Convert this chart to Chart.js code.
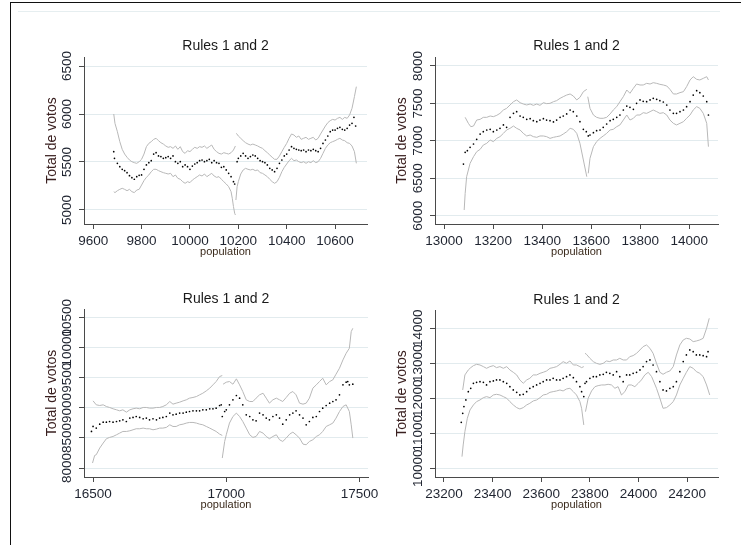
<!DOCTYPE html>
<html><head><meta charset="utf-8">
<script src="https://cdn.jsdelivr.net/npm/chart.js@4.4.1/dist/chart.umd.min.js"></script>
<style>
html,body{margin:0;padding:0;background:#fff;}
#wrap{position:relative;width:741px;height:545px;overflow:hidden;background:#fff;}
canvas{position:absolute;}
.frame{position:absolute;left:10px;top:2px;width:731px;height:543px;border-left:1px solid #111;border-top:1px solid #111;box-sizing:border-box;pointer-events:none;}
.faint{position:absolute;left:18px;top:11px;width:702px;height:1px;background:#e6eef0;}
</style></head><body>
<div id="wrap">
<div class="faint"></div>
<canvas id="c1" width="380" height="272" style="left:0;top:0"></canvas>
<canvas id="c2" width="361" height="272" style="left:380px;top:0"></canvas>
<canvas id="c3" width="380" height="273" style="left:0;top:272px"></canvas>
<canvas id="c4" width="361" height="273" style="left:380px;top:272px"></canvas>
<div class="frame"></div>
</div>
<script>
// ---------- DATA ----------
const panelTitle = 'Rules 1 and 2';
const xAxisTitle = 'population';
const yAxisTitle = 'Total de votos';

const p1XTicks = [9600, 9800, 10000, 10200, 10400, 10600];
const p1YTicks = [5000, 5500, 6000, 6500];
const p2XTicks = [13000, 13200, 13400, 13600, 13800, 14000];
const p2YTicks = [6000, 6500, 7000, 7500, 8000];
const p3XTicks = [16500, 17000, 17500];
const p3YTicks = [8000, 8500, 9000, 9500, 10000, 10500];
const p4XTicks = [23200, 23400, 23600, 23800, 24000, 24200];
const p4YTicks = [10000, 11000, 12000, 13000, 14000];

// Panel 1
const p1Dots = [[9685,5608],[9688,5538],[9700,5486],[9710,5451],[9720,5424],[9730,5410],[9740,5389],[9750,5358],[9760,5337],[9770,5320],[9780,5347],[9790,5361],[9800,5365],[9810,5424],[9820,5469],[9830,5493],[9840,5514],[9850,5583],[9860,5597],[9870,5563],[9880,5556],[9890,5538],[9900,5545],[9910,5556],[9920,5538],[9930,5563],[9940,5503],[9950,5486],[9960,5503],[9970,5451],[9980,5469],[9990,5451],[10000,5424],[10010,5458],[10020,5479],[10030,5493],[10040,5514],[10050,5521],[10060,5503],[10070,5514],[10080,5528],[10090,5493],[10100,5514],[10110,5493],[10120,5486],[10130,5444],[10140,5451],[10150,5417],[10160,5382],[10170,5347],[10180,5295],[10185,5271],[10195,5503],[10200,5538],[10210,5563],[10220,5590],[10230,5563],[10240,5538],[10250,5556],[10260,5573],[10270,5563],[10280,5538],[10290,5514],[10300,5503],[10310,5493],[10320,5469],[10330,5434],[10340,5417],[10350,5399],[10360,5434],[10370,5486],[10380,5521],[10390,5563],[10400,5583],[10410,5625],[10420,5660],[10430,5642],[10440,5632],[10450,5625],[10460,5618],[10470,5625],[10480,5608],[10490,5625],[10500,5618],[10510,5632],[10520,5618],[10530,5608],[10540,5642],[10550,5694],[10560,5729],[10570,5771],[10580,5816],[10590,5833],[10600,5833],[10610,5851],[10620,5861],[10630,5840],[10640,5833],[10650,5851],[10660,5885],[10670,5903],[10678,5965],[10685,5875]];
const p1UpL = [[9685,6000],[9690,5903],[9700,5816],[9710,5712],[9720,5632],[9730,5583],[9740,5549],[9750,5521],[9760,5503],[9770,5493],[9780,5486],[9790,5503],[9800,5528],[9810,5583],[9820,5660],[9830,5694],[9840,5712],[9850,5736],[9860,5747],[9870,5722],[9880,5701],[9890,5687],[9900,5667],[9910,5653],[9920,5660],[9930,5642],[9940,5667],[9950,5632],[9960,5660],[9970,5608],[9980,5590],[9990,5618],[10000,5608],[10010,5632],[10020,5653],[10030,5642],[10040,5660],[10050,5653],[10060,5667],[10070,5642],[10080,5660],[10090,5677],[10100,5632],[10110,5608],[10120,5590],[10130,5583],[10140,5597],[10150,5590],[10160,5583],[10170,5597],[10180,5625],[10188,5667]];
const p1UpR = [[10192,5799],[10200,5771],[10210,5747],[10220,5722],[10230,5701],[10240,5687],[10250,5677],[10260,5687],[10270,5677],[10280,5667],[10290,5653],[10300,5642],[10310,5618],[10320,5597],[10330,5573],[10340,5549],[10350,5528],[10360,5528],[10370,5563],[10380,5608],[10390,5653],[10400,5694],[10410,5747],[10420,5792],[10430,5781],[10440,5757],[10450,5771],[10460,5736],[10470,5747],[10480,5757],[10490,5736],[10500,5747],[10510,5757],[10520,5729],[10530,5747],[10540,5792],[10550,5833],[10560,5875],[10570,5910],[10580,5931],[10590,5944],[10600,5937],[10610,5955],[10620,5965],[10630,5944],[10640,5965],[10650,5955],[10660,5990],[10670,6059],[10680,6181],[10688,6285]];
const p1LoL = [[9685,5191],[9690,5181],[9700,5201],[9710,5215],[9720,5226],[9730,5215],[9740,5201],[9750,5215],[9760,5191],[9770,5181],[9780,5208],[9790,5215],[9800,5260],[9810,5306],[9820,5340],[9830,5365],[9840,5399],[9850,5424],[9860,5424],[9870,5410],[9880,5399],[9890,5389],[9900,5382],[9910,5375],[9920,5382],[9930,5347],[9940,5365],[9950,5330],[9960,5320],[9970,5295],[9980,5278],[9990,5295],[10000,5285],[10010,5312],[10020,5330],[10030,5347],[10040,5365],[10050,5354],[10060,5375],[10070,5347],[10080,5365],[10090,5382],[10100,5354],[10110,5340],[10120,5347],[10130,5320],[10140,5295],[10150,5271],[10160,5243],[10170,5191],[10175,5122],[10180,5035],[10185,4965],[10188,4948]];
const p1LoR = [[10190,5104],[10195,5243],[10200,5295],[10210,5375],[10220,5417],[10230,5434],[10240,5424],[10250,5417],[10260,5424],[10270,5410],[10280,5417],[10290,5389],[10300,5382],[10310,5365],[10320,5347],[10330,5320],[10340,5295],[10350,5278],[10360,5295],[10370,5340],[10380,5399],[10390,5444],[10400,5479],[10410,5514],[10420,5538],[10430,5514],[10440,5521],[10450,5503],[10460,5493],[10470,5503],[10480,5486],[10490,5503],[10500,5493],[10510,5514],[10520,5493],[10530,5503],[10540,5538],[10550,5590],[10560,5642],[10570,5677],[10580,5701],[10590,5712],[10600,5722],[10610,5736],[10620,5747],[10630,5729],[10640,5722],[10650,5701],[10660,5694],[10670,5667],[10680,5608],[10688,5486]];

// Panel 2
const p2Dots = [[13079,6690],[13086,6846],[13095,6869],[13106,6913],[13120,6958],[13133,7020],[13147,7091],[13160,7122],[13174,7145],[13188,7154],[13201,7122],[13215,7145],[13228,7167],[13242,7212],[13255,7180],[13269,7314],[13283,7367],[13296,7390],[13310,7332],[13323,7314],[13337,7287],[13351,7296],[13364,7269],[13378,7256],[13391,7278],[13405,7296],[13418,7278],[13432,7269],[13446,7252],[13459,7278],[13473,7314],[13486,7332],[13500,7359],[13514,7412],[13527,7390],[13541,7332],[13554,7256],[13568,7154],[13580,7122],[13588,7065],[13595,7078],[13609,7109],[13622,7136],[13636,7145],[13649,7180],[13663,7225],[13677,7269],[13690,7287],[13704,7314],[13717,7345],[13731,7412],[13745,7465],[13758,7448],[13772,7421],[13785,7501],[13799,7546],[13812,7528],[13826,7523],[13840,7546],[13853,7568],[13867,7555],[13880,7537],[13894,7519],[13908,7479],[13921,7412],[13935,7367],[13948,7367],[13962,7390],[13976,7412],[13989,7457],[14003,7523],[14016,7612],[14030,7670],[14043,7644],[14057,7599],[14071,7523],[14078,7345]];
const p2UpL = [[13086,7314],[13099,7234],[13109,7189],[13120,7198],[13133,7278],[13147,7287],[13160,7314],[13174,7314],[13188,7332],[13201,7323],[13215,7341],[13228,7367],[13242,7412],[13255,7434],[13269,7479],[13283,7523],[13296,7546],[13310,7510],[13323,7492],[13337,7479],[13351,7492],[13364,7474],[13378,7492],[13391,7474],[13405,7510],[13418,7497],[13432,7501],[13446,7523],[13459,7537],[13473,7568],[13486,7590],[13500,7612],[13514,7626],[13527,7599],[13541,7546],[13554,7581],[13568,7657],[13582,7688]];
const p2UpR = [[13586,7590],[13595,7434],[13609,7345],[13622,7314],[13636,7301],[13649,7301],[13663,7314],[13677,7359],[13690,7412],[13704,7457],[13717,7523],[13731,7590],[13745,7679],[13758,7635],[13772,7702],[13785,7759],[13799,7746],[13812,7746],[13826,7768],[13840,7759],[13853,7777],[13867,7768],[13880,7755],[13894,7746],[13908,7733],[13921,7688],[13935,7626],[13948,7626],[13962,7644],[13976,7657],[13989,7724],[14003,7813],[14016,7857],[14030,7822],[14043,7813],[14057,7835],[14071,7857],[14078,7813]];
const p2LoL = [[13082,6076],[13086,6298],[13092,6521],[13106,6699],[13120,6788],[13133,6855],[13147,6886],[13160,6944],[13174,6967],[13188,7011],[13201,6989],[13215,7033],[13228,7056],[13242,7100],[13255,7145],[13269,7167],[13283,7198],[13296,7167],[13310,7145],[13323,7100],[13337,7065],[13351,7078],[13364,7056],[13378,7047],[13391,7065],[13405,7065],[13418,7056],[13432,7033],[13446,7047],[13459,7056],[13473,7065],[13486,7091],[13500,7122],[13514,7167],[13527,7154],[13541,7100],[13554,6967],[13568,6744],[13582,6521]];
const p2LoR = [[13588,6566],[13595,6766],[13609,6922],[13622,6989],[13636,7033],[13649,7065],[13663,7100],[13677,7145],[13690,7154],[13704,7189],[13717,7212],[13731,7278],[13745,7345],[13758,7278],[13772,7301],[13785,7345],[13799,7345],[13812,7376],[13826,7367],[13840,7390],[13853,7412],[13867,7390],[13880,7367],[13894,7376],[13908,7345],[13921,7278],[13935,7234],[13948,7212],[13962,7234],[13976,7256],[13989,7301],[14003,7345],[14016,7412],[14030,7457],[14043,7434],[14057,7367],[14071,7234],[14078,6922]];

// Panel 3
const p3Dots = [[16494,8608],[16500,8691],[16512,8664],[16525,8730],[16538,8763],[16550,8763],[16562,8774],[16575,8763],[16588,8774],[16600,8785],[16612,8802],[16625,8774],[16638,8830],[16650,8841],[16662,8857],[16675,8841],[16688,8819],[16700,8830],[16712,8802],[16725,8819],[16738,8802],[16750,8830],[16762,8841],[16775,8857],[16788,8913],[16800,8885],[16812,8896],[16825,8913],[16838,8913],[16850,8929],[16862,8940],[16875,8951],[16888,8951],[16900,8951],[16912,8968],[16925,8968],[16938,8985],[16950,8985],[16962,8996],[16975,9040],[16981,9051],[16985,8857],[16994,8940],[17000,8968],[17012,9051],[17025,9134],[17038,9206],[17050,9162],[17062,9051],[17075,8885],[17088,8857],[17100,8802],[17112,8785],[17125,8913],[17138,8885],[17150,8830],[17162,8802],[17175,8857],[17188,8885],[17200,8830],[17212,8730],[17225,8802],[17238,8885],[17250,8913],[17262,8951],[17275,8885],[17288,8830],[17300,8719],[17312,8774],[17325,8841],[17338,8857],[17350,8940],[17362,8996],[17375,9040],[17388,9079],[17400,9106],[17412,9134],[17425,9217],[17438,9383],[17450,9427],[17456,9438],[17462,9383],[17475,9394]];
const p3UpL = [[16500,9117],[16512,9051],[16525,9040],[16538,9051],[16550,9023],[16562,9007],[16575,8985],[16588,8968],[16600,8951],[16612,8968],[16625,8929],[16638,8968],[16650,8985],[16662,8996],[16675,8985],[16688,9007],[16700,9007],[16712,8996],[16725,8996],[16738,9007],[16750,9007],[16762,9023],[16775,9051],[16788,9106],[16800,9062],[16812,9079],[16825,9095],[16838,9117],[16850,9134],[16862,9162],[16875,9173],[16888,9189],[16900,9217],[16912,9244],[16925,9283],[16938,9328],[16950,9383],[16962,9438],[16975,9521],[16985,9538]];
const p3UpR = [[16988,9394],[17000,9427],[17012,9438],[17025,9394],[17038,9483],[17050,9383],[17062,9272],[17075,9134],[17088,9106],[17100,9106],[17112,9162],[17125,9217],[17138,9244],[17150,9162],[17162,9079],[17175,9134],[17188,9162],[17200,9134],[17212,9106],[17225,9173],[17238,9244],[17250,9272],[17262,9217],[17275,9079],[17288,9062],[17300,9079],[17312,9162],[17325,9328],[17338,9383],[17350,9438],[17362,9493],[17375,9383],[17388,9438],[17400,9466],[17412,9560],[17425,9660],[17438,9798],[17450,9908],[17462,9991],[17469,10268],[17475,10323]];
const p3LoL = [[16498,8083],[16506,8210],[16512,8221],[16525,8332],[16538,8415],[16550,8487],[16562,8509],[16575,8525],[16588,8553],[16600,8581],[16612,8608],[16625,8608],[16638,8619],[16650,8636],[16662,8653],[16675,8653],[16688,8664],[16700,8653],[16712,8653],[16725,8636],[16738,8647],[16750,8664],[16762,8664],[16775,8675],[16788,8719],[16800,8691],[16812,8691],[16825,8719],[16838,8730],[16850,8747],[16862,8758],[16875,8758],[16888,8747],[16900,8730],[16912,8719],[16925,8691],[16938,8664],[16950,8636],[16962,8608],[16975,8564],[16985,8542]];
const p3LoR = [[16985,8166],[16994,8442],[17000,8553],[17012,8747],[17025,8857],[17038,8913],[17050,8857],[17062,8774],[17075,8664],[17088,8553],[17100,8509],[17112,8525],[17125,8608],[17138,8581],[17150,8525],[17162,8487],[17175,8525],[17188,8553],[17200,8470],[17212,8442],[17225,8498],[17238,8564],[17250,8597],[17262,8553],[17275,8498],[17288,8398],[17300,8387],[17312,8442],[17325,8470],[17338,8525],[17350,8553],[17362,8608],[17375,8691],[17388,8719],[17400,8747],[17412,8830],[17425,8940],[17438,9023],[17450,9051],[17462,8940],[17469,8719],[17475,8498]];

// Panel 4
const p4Dots = [[23271,11314],[23277,11571],[23282,11762],[23290,11952],[23300,12190],[23310,12286],[23321,12429],[23334,12457],[23348,12476],[23362,12457],[23375,12381],[23389,12476],[23403,12495],[23416,12524],[23430,12524],[23444,12476],[23458,12429],[23471,12333],[23485,12238],[23499,12171],[23512,12095],[23526,12114],[23540,12190],[23553,12286],[23567,12333],[23581,12381],[23595,12429],[23608,12476],[23622,12524],[23636,12524],[23649,12571],[23663,12524],[23677,12524],[23690,12571],[23704,12619],[23718,12667],[23732,12590],[23745,12476],[23759,12333],[23766,12190],[23775,12048],[23780,12429],[23786,12476],[23800,12571],[23814,12619],[23827,12619],[23841,12667],[23855,12686],[23868,12743],[23882,12714],[23896,12667],[23910,12762],[23923,12619],[23937,12476],[23951,12667],[23964,12667],[23978,12714],[23992,12743],[24006,12810],[24019,12905],[24033,13048],[24047,13095],[24060,12952],[24074,12762],[24088,12476],[24101,12238],[24115,12210],[24129,12286],[24143,12333],[24156,12476],[24170,12762],[24184,13048],[24197,13238],[24211,13381],[24225,13333],[24238,13238],[24252,13238],[24266,13219],[24280,13190],[24286,13333]];
const p4UpL = [[23277,12238],[23286,12667],[23300,12810],[23310,12876],[23321,12933],[23334,12971],[23348,12952],[23362,12905],[23375,12857],[23389,12905],[23403,12933],[23416,12876],[23430,12905],[23444,12857],[23458,12905],[23471,12810],[23485,12743],[23499,12667],[23512,12524],[23526,12429],[23540,12524],[23553,12571],[23567,12667],[23581,12667],[23595,12714],[23608,12743],[23622,12781],[23636,12857],[23649,12876],[23663,12905],[23677,12971],[23690,13048],[23704,13000],[23718,13067],[23732,12952],[23745,12952],[23759,12905],[23766,12876],[23775,12905]];
const p4UpR = [[23780,13286],[23786,13257],[23800,13143],[23814,13048],[23827,13000],[23841,12971],[23855,13000],[23868,13067],[23882,13048],[23896,13095],[23910,13095],[23923,13143],[23937,13095],[23951,13095],[23964,13190],[23978,13219],[23992,13286],[24006,13381],[24019,13476],[24033,13524],[24047,13429],[24060,13286],[24074,13000],[24088,12743],[24101,12686],[24115,12743],[24129,12781],[24143,12905],[24156,13238],[24170,13524],[24184,13667],[24197,13714],[24211,13695],[24225,13619],[24238,13638],[24252,13667],[24266,13714],[24280,14000],[24291,14286]];
const p4LoL = [[23274,10333],[23279,10667],[23286,11048],[23296,11429],[23307,11667],[23321,11810],[23334,11905],[23348,11952],[23362,12019],[23375,12048],[23389,12019],[23403,12095],[23416,12114],[23430,12095],[23444,12048],[23458,12000],[23471,11905],[23485,11810],[23499,11733],[23512,11695],[23526,11733],[23540,11810],[23553,11857],[23567,11924],[23581,11952],[23595,12019],[23608,12095],[23622,12114],[23636,12171],[23649,12190],[23663,12210],[23677,12238],[23690,12210],[23704,12267],[23718,12286],[23732,12190],[23745,12095],[23759,11905],[23766,11714],[23775,11238]];
const p4LoR = [[23782,11619],[23793,12000],[23807,12210],[23821,12333],[23834,12362],[23848,12381],[23862,12381],[23875,12400],[23889,12381],[23903,12286],[23916,12333],[23930,12095],[23944,12190],[23958,12381],[23971,12381],[23985,12333],[23999,12429],[24012,12524],[24026,12667],[24040,12743],[24054,12619],[24074,12286],[24088,12000],[24101,11714],[24115,11733],[24129,11810],[24143,11905],[24156,12095],[24170,12381],[24184,12571],[24197,12743],[24211,12905],[24225,12857],[24238,12762],[24252,12714],[24266,12619],[24280,12381],[24293,12095]];

// ---------- STYLE ----------
const FONT = '"Liberation Sans", Arial, Helvetica, sans-serif';
const GRID = '#e2ebee';
const AXIS = '#4a4a4a';
const BAND = '#b8b8b8';
const TICKC = '#1f2430';
const YTITLEC = '#3a2020';
const POPC = '#3a2a1c';
const TITLEC = '#1a1a1a';
Chart.defaults.font.family = FONT;

const toXY = arr => arr.map(p => ({x: p[0], y: p[1]}));

const panelText = {
  id: 'panelText',
  afterDraw(chart, args, o) {
    const ctx = chart.ctx, a = chart.chartArea, ys = chart.scales.y;
    ctx.save();
    ctx.textAlign = 'center';
    ctx.textBaseline = 'middle';
    ctx.fillStyle = TITLEC;
    ctx.font = '14px ' + FONT;
    ctx.fillText(panelTitle, (a.left + a.right) / 2, a.top - o.titleGap);
    ctx.fillStyle = TICKC;
    ctx.font = '13.5px ' + FONT;
    o.yTicks.forEach(v => {
      const y = ys.getPixelForValue(v);
      ctx.save();
      ctx.translate(a.left - 17, y);
      ctx.rotate(-Math.PI / 2);
      ctx.fillText(String(v), 0, 0);
      ctx.restore();
    });
    ctx.restore();
  }
};

function makePanel(id, c) {
  const line = (d) => ({data: toXY(d), showLine: true, borderColor: BAND, borderWidth: 1, pointRadius: 0, tension: 0, fill: false});
  new Chart(document.getElementById(id), {
    type: 'scatter',
    data: {datasets: [
      line(c.upL), line(c.upR), line(c.loL), line(c.loR),
      {data: toXY(c.dots), showLine: false, pointRadius: 0.85, pointBackgroundColor: '#000', pointBorderWidth: 0, pointBorderColor: '#000'}
    ]},
    options: {
      responsive: false, animation: false, devicePixelRatio: 1,
      layout: {padding: {top: c.padTop, right: c.padRight, left: 0, bottom: 0}},
      plugins: {legend: {display: false}, tooltip: {enabled: false}, panelText: {yTicks: c.yTicks, titleGap: c.titleGap}},
      scales: {
        x: {
          type: 'linear', position: 'bottom', min: c.xMin, max: c.xMax,
          afterBuildTicks: s => { s.ticks = c.xTicks.map(v => ({value: v})); },
          afterFit: s => { s.height = c.xH; s.paddingLeft = 0; s.paddingRight = 0; },
          grid: {drawOnChartArea: false, drawTicks: true, tickLength: 5, tickColor: AXIS, color: AXIS},
          border: {display: true, color: AXIS, width: 1},
          ticks: {callback: v => String(v), font: {size: 13.5}, color: TICKC, padding: 4, maxRotation: 0, minRotation: 0, autoSkip: false},
          title: {display: true, text: xAxisTitle, color: POPC, font: {size: 11}, padding: {top: 0, bottom: c.popPad}}
        },
        y: {
          type: 'linear', position: 'left', min: c.yMin, max: c.yMax,
          afterBuildTicks: s => { s.ticks = c.yTicks.map(v => ({value: v})); },
          afterFit: s => { s.width = c.yW; s.paddingTop = 0; s.paddingBottom = 0; },
          grid: {color: GRID, lineWidth: 1, drawTicks: true, tickLength: 5, tickColor: AXIS},
          border: {display: true, color: AXIS, width: 1},
          ticks: {display: false},
          title: {display: true, text: yAxisTitle, color: YTITLEC, font: {size: 14}, padding: {top: c.ytPad, bottom: 0}}
        }
      }
    },
    plugins: [panelText]
  });
}

makePanel('c1', {dots: p1Dots, upL: p1UpL, upR: p1UpR, loL: p1LoL, loR: p1LoR, xTicks: p1XTicks, yTicks: p1YTicks,
  xMin: 9562, xMax: 10732, yMin: 4854, yMax: 6594, padTop: 57, padRight: 13, xH: 48, yW: 84, popPad: 13.7, ytPad: 43.3, titleGap: 11});
makePanel('c2', {dots: p2Dots, upL: p2UpL, upR: p2UpR, loL: p2LoL, loR: p2LoR, xTicks: p2XTicks, yTicks: p2YTicks,
  xMin: 12963, xMax: 14117, yMin: 5889, yMax: 8120, padTop: 57, padRight: 23, xH: 48, yW: 55, popPad: 13.7, ytPad: 13.3, titleGap: 11});
makePanel('c3', {dots: p3Dots, upL: p3UpL, upR: p3UpR, loL: p3LoL, loR: p3LoR, xTicks: p3XTicks, yTicks: p3YTicks,
  xMin: 16466, xMax: 17532, yMin: 7851, yMax: 10644, padTop: 37, padRight: 12, xH: 68, yW: 84, popPad: 33.4, ytPad: 43.3, titleGap: 10});
makePanel('c4', {dots: p4Dots, upL: p4UpL, upR: p4UpR, loL: p4LoL, loR: p4LoR, xTicks: p4XTicks, yTicks: p4YTicks,
  xMin: 23163, xMax: 24327, yMin: 9751, yMax: 14523, padTop: 38, padRight: 23, xH: 68, yW: 55, popPad: 33.4, ytPad: 14, titleGap: 10});
</script>
</body></html>
